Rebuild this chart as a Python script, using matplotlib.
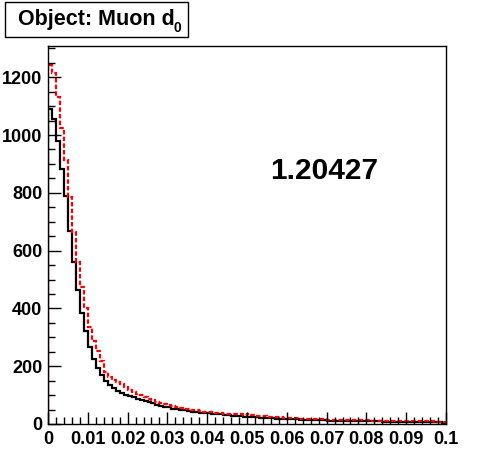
import numpy as np
import matplotlib.pyplot as plt
from matplotlib.patches import Rectangle
from matplotlib.ticker import MultipleLocator

plt.rcParams['font.family'] = ['Liberation Sans', 'DejaVu Sans']
plt.rcParams['font.weight'] = 'bold'

# Muon d0 histograms, 100 bins from 0 to 0.1
black_counts = [1090, 1057, 980, 884, 788, 669, 559, 465, 384, 322,
                265, 224, 194, 170, 150, 136, 124, 115, 108, 100,
                97, 93, 88, 82, 78, 75, 74, 67, 62, 60,
                58, 53, 52, 49, 47, 45, 43, 41, 39, 37,
                37, 36, 35, 33, 32, 31, 29, 28, 26, 25,
                24, 23, 23, 22, 21, 20, 20, 19, 18, 18,
                17, 16, 16, 15, 15, 14, 14, 14, 13, 13,
                12, 12, 12, 11, 11, 11, 10, 10, 10, 10,
                9, 9, 9, 9, 8, 8, 8, 8, 8, 7,
                7, 7, 7, 7, 6, 6, 6, 6, 6, 5]
red_counts = [1242, 1213, 1133, 1023, 913, 786, 665, 559, 473, 400,
              334, 287, 254, 217, 179, 163, 152, 145, 140, 128,
              118, 110, 105, 99, 93, 87, 82, 77, 74, 70,
              67, 63, 60, 56, 53, 51, 49, 47, 45, 43,
              42, 40, 38, 37, 36, 35, 35, 34, 33, 32,
              35, 30, 28, 27, 26, 25, 24, 24, 23, 22,
              22, 21, 20, 19, 18, 18, 17, 17, 16, 16,
              15, 15, 15, 14, 14, 14, 14, 13, 13, 13,
              13, 12, 12, 12, 12, 11, 11, 11, 10, 10,
              10, 10, 9, 9, 9, 9, 9, 8, 8, 8]
bin_edges = np.linspace(0, 0.1, len(black_counts) + 1)

x_ticks = [0, 0.01, 0.02, 0.03, 0.04, 0.05, 0.06, 0.07, 0.08, 0.09, 0.1]
x_labels = ["0", "0.01", "0.02", "0.03", "0.04", "0.05", "0.06", "0.07", "0.08", "0.09", "0.1"]
y_ticks = [0, 200, 400, 600, 800, 1000, 1200]

title_text = "Object: Muon d"
title_sub = "0"
ratio_text = "1.20427"

W, H = 496, 472
fig = plt.figure(figsize=(W / 100, H / 100), dpi=100)
ax = fig.add_axes([48 / W, 1 - 424 / H, 398 / W, 378 / H])

ax.stairs(black_counts, bin_edges, color='black', linewidth=1.6)
ax.stairs(red_counts, bin_edges, color='red', linewidth=1.6, linestyle=(0, (2, 1)))

ax.set_xlim(0, 0.1)
ax.set_ylim(0, 1308)
ax.set_xticks(x_ticks)
ax.set_xticklabels(x_labels)
ax.set_yticks(y_ticks)
ax.xaxis.set_minor_locator(MultipleLocator(0.002))
ax.yaxis.set_minor_locator(MultipleLocator(50))
ax.tick_params(which='both', direction='in', top=False, right=False,
               labelsize=13, width=1, color='black')
ax.tick_params(axis='x', which='major', length=9, pad=5)
ax.tick_params(axis='x', which='minor', length=5)
ax.tick_params(axis='y', which='major', length=9, pad=4)
ax.tick_params(axis='y', which='minor', length=5)
for lab in ax.get_xticklabels() + ax.get_yticklabels():
    lab.set_fontweight('bold')
for sp in ax.spines.values():
    sp.set_linewidth(1)

ax.text(0.695, 0.67, ratio_text, transform=ax.transAxes, fontsize=21.5,
        fontweight='bold', ha='center', va='center')

# title box in the top-left corner
fig.patches.append(Rectangle((5 / W, 1 - 37 / H), 183 / W, 35 / H,
                             transform=fig.transFigure, fill=False,
                             edgecolor='black', linewidth=1))
t = fig.text(18 / W, 1 - 25 / H, title_text, fontsize=15.5, fontweight='bold',
             ha='left', va='baseline')
fig.text(174 / W, 1 - 32 / H, title_sub, fontsize=10, fontweight='bold',
         ha='left', va='baseline')

fig.savefig("out.png", dpi=100)
